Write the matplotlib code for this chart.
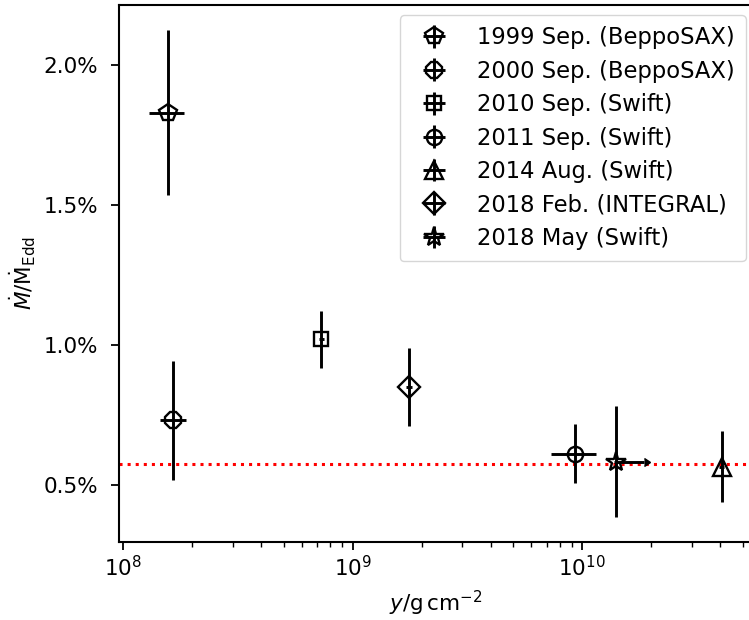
import numpy as np
import matplotlib
matplotlib.use("Agg")
import matplotlib.pyplot as plt
from matplotlib.ticker import PercentFormatter, MultipleLocator

# column depth y (g cm^-2) and accretion rate (percent of Eddington)
labels = ["1999 Sep. (BeppoSAX)", "2000 Sep. (BeppoSAX)", "2010 Sep. (Swift)",
          "2011 Sep. (Swift)", "2014 Aug. (Swift)", "2018 Feb. (INTEGRAL)",
          "2018 May (Swift)"]
markers = ["p", "8", "s", "o", "^", "D", "*"]
msizes = [13, 12.5, 10.5, 11, 12.5, 11, 15]
y_col = [1.57e8, 1.65e8, 7.31e8, 9.35e9, 4.05e10, 1.76e9, 1.41e10]
y_lo = [0.27e8, 0.21e8, 0.2e8, 2.04e9, 1.0e9, 0.5e8, 0.3e9]
y_hi = [0.27e8, 0.22e8, 0.2e8, 2.15e9, 1.0e9, 0.5e8, 0.3e9]
mdot = [1.83, 0.73, 1.02, 0.611, 0.565, 0.851, 0.583]
mdot_err = [0.295, 0.213, 0.102, 0.106, 0.126, 0.139, 0.198]
# 2018 May is a lower limit on y
limit_idx = 6
limit_len = 0.45e10
mdot_mean = 0.573

W, H = 749, 620
fig = plt.figure(figsize=(W / 100, H / 100), dpi=100)
ax = fig.add_axes([119 / W, 1 - 542 / H, (752 - 119) / W, (542 - 5) / H])

for i in range(len(labels)):
    xerr = np.array([[y_lo[i]], [y_hi[i]]])
    ax.errorbar([y_col[i]], [mdot[i]], xerr=xerr, yerr=[mdot_err[i]],
                fmt=markers[i], color="k", mfc="none",
                ms=msizes[i], mew=1.7, elinewidth=2.1, capsize=0, label=labels[i])

# arrow for the lower limit
ax.errorbar([y_col[limit_idx]], [mdot[limit_idx]], xerr=[[0], [limit_len]],
            xlolims=True, fmt="none", color="k", elinewidth=2.1, capsize=0)

ax.axhline(mdot_mean, color="red", ls=":", lw=2.2, zorder=0)

ax.set_xscale("log")
ax.set_xlim(9.58e7, 5.5e10)
ax.set_ylim(0.296, 2.214)
ax.yaxis.set_major_locator(MultipleLocator(0.5))
ax.yaxis.set_major_formatter(PercentFormatter(xmax=100, decimals=1))
ax.tick_params(labelsize=15.5, width=1.3, length=6)
ax.tick_params(axis="y", pad=9)
ax.tick_params(which="minor", width=1.0, length=3.5)
for s in ax.spines.values():
    s.set_linewidth(1.5)

ax.set_xlabel(r"$y/\mathrm{g\,cm^{-2}}$", fontsize=15.5, labelpad=6)
ax.set_ylabel(r"$\dot{M}/\dot{\mathrm{M}}_{\mathrm{Edd}}$", fontsize=15.5, labelpad=4)
ax.legend(loc="upper right", bbox_to_anchor=((746 - 119) / (752 - 119), 1 - 10 / 537),
          borderaxespad=0, fontsize=16.3, handletextpad=0.9, labelspacing=0.46,
          borderpad=0.5)

fig.savefig("out.png", dpi=100)
